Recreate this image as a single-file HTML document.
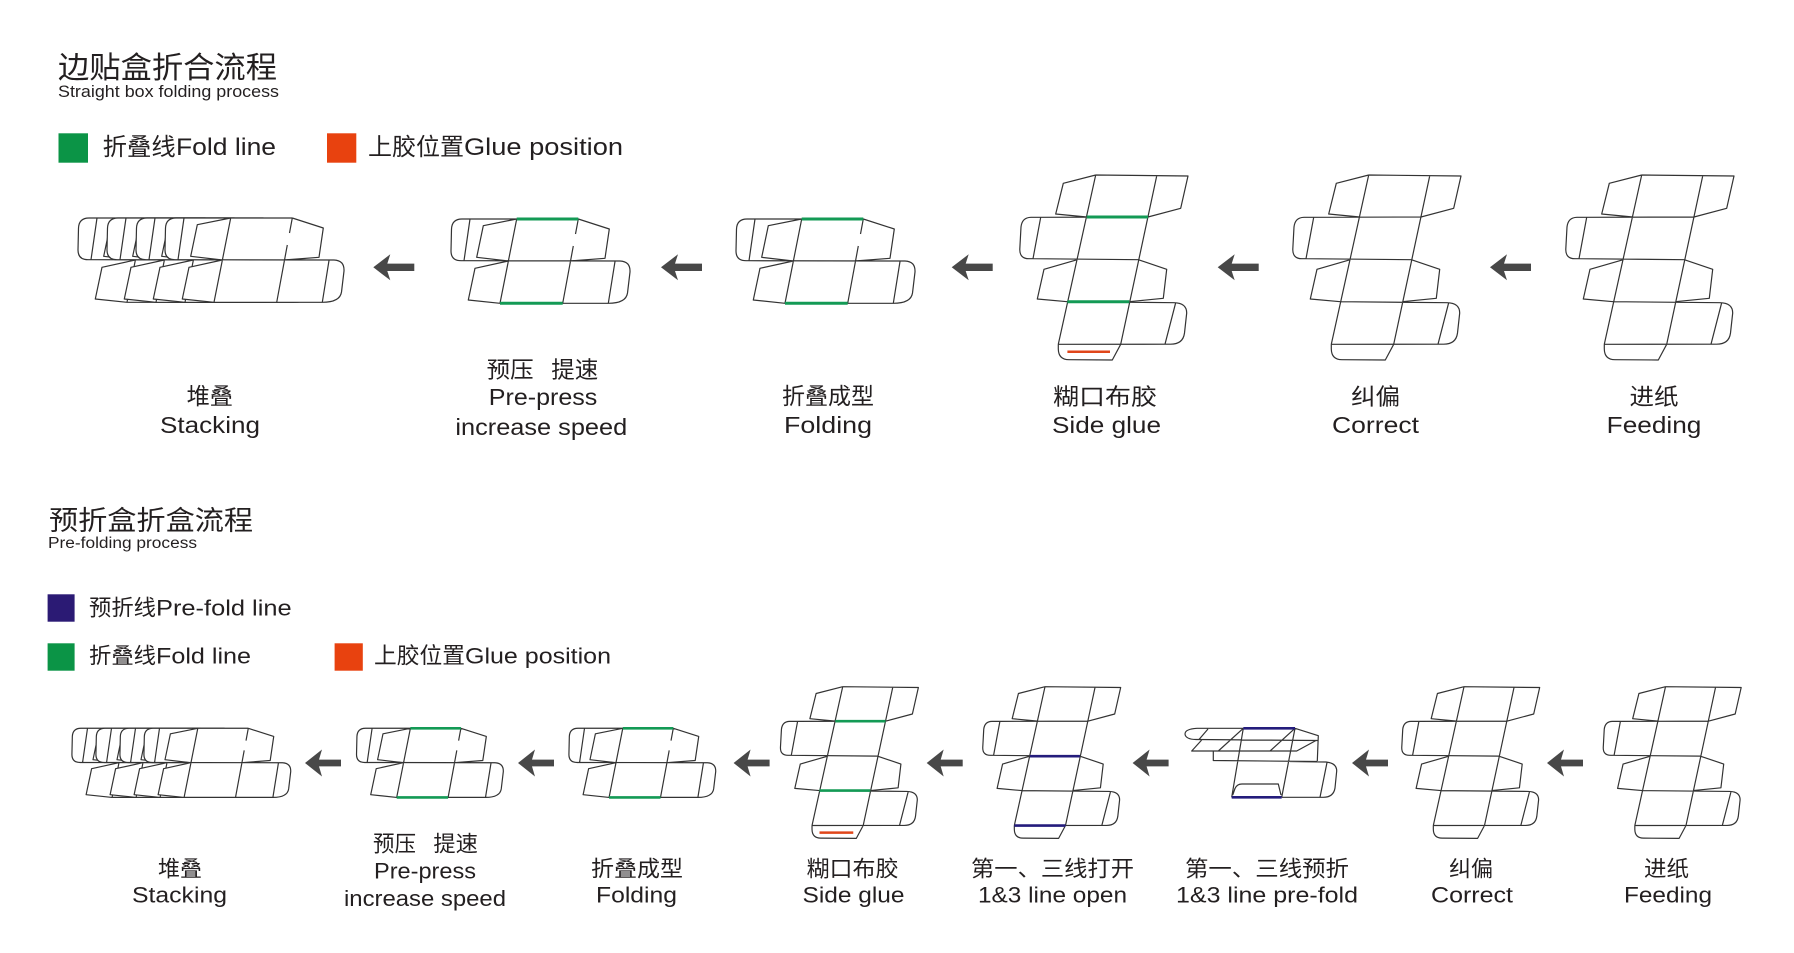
<!DOCTYPE html>
<html>
<head>
<meta charset="utf-8">
<style>
html,body{margin:0;padding:0;background:#fff;}
svg{display:block}
.t{fill:#231f20;font-family:"Liberation Sans","Noto Sans CJK SC",sans-serif;}
.c{fill:#231f20;font-family:"Noto Sans CJK SC","WenQuanYi Zen Hei",sans-serif;}
</style>
</head>
<body>
<svg width="1794" height="953" viewBox="0 0 1794 953" xmlns="http://www.w3.org/2000/svg">
<defs>
  <g id="vbox" fill="none" stroke-linejoin="round">
    <path d="M81.7,10 L49.3,18.3 L41.7,49 L72.7,52
             M81.7,10 L174,11 L166.7,43.3 L134,52
             M81.7,10 L44.3,179.3
             M142.7,11 L106.7,179.3
             M26.7,52.3 L134,52
             M26.7,52.3 L17,52.3 Q8,52.5 7,62 L5.8,84 Q5.5,93.7 15,93.7 L19,93.7
             M26.7,52.3 L19,93.7
             M19,93.7 L124.3,94.7 L152.7,104.3 L149.3,133.3 L115.3,136.7
             M63.3,94.7 L30,104.3 L23.3,134 L53.3,136.7
             M53.3,136.7 L160,137.7 Q172.7,138 172.7,148 L170.5,168 Q169,179.2 156.7,179.2
             M161.7,137.7 L151,179.2
             M44.3,179.3 L156.7,179.2
             M44.3,179.3 L44.3,184 Q44.5,194.7 55,194.7 L98.3,195 L106.7,179.3"/>
  </g>
  <g id="hbox" stroke-linejoin="round">
    <path d="M30,14 L138.3,14 L169.3,24 L165,53.3 L130,56 L23.3,55.7 L21,55.7 Q11,55.7 11,46 L11.5,24 Q12,14 22,14 Z" fill="#fff" stroke="none"/>
    <path d="M68.3,56 L180,56 Q190.5,56.5 190,67 L187.5,88 Q186,98.3 168.3,98.3 L60,98.3 L28.3,95 L35,63.3 Z" fill="#fff" stroke="none"/>
    <path fill="none" d="M30,14 L22,14 Q12,14 11.5,24 L11,46 Q11,55.7 21,55.7 L23.3,55.7
             M30,14 L24,55.7
             M30,14 L138.3,14
             M76.7,14 L43.3,20.7 L36.7,52.3 L68.3,56
             M76.7,14 L60,98.3
             M138.3,14 L135.5,29 M133.3,41 L122.7,98.3
             M138.3,14 L169.3,24 L165,53.3 L130,56
             M23.3,55.7 L180,56
             M68.3,56 L35,63.3 L28.3,95 L60,98.3
             M180,56 Q190.5,56.5 190,67 L187.5,88 Q186,98.3 168.3,98.3
             M175,56.5 L168.3,98.3
             M60,98.3 L168.3,98.3"/>
  </g>
  <path id="arr1" d="M0,0 L17,-13 L14,-3.7 L41,-3.7 L41,3.7 L14,3.7 L17,13 Z" fill="#484848"/>
  <path id="arr2" d="M0,0 L17,-13.5 L14,-3.4 L36,-3.4 L36,3.4 L14,3.4 L17,13.5 Z" fill="#484848"/>
</defs>

<rect width="1794" height="953" fill="#fff"/>

<!-- ============ SECTION 1 ============ -->
<text class="c" x="58" y="78" font-size="30" textLength="219" lengthAdjust="spacingAndGlyphs">边贴盒折合流程</text>
<text class="t" x="58" y="97" font-size="17" textLength="221" lengthAdjust="spacingAndGlyphs">Straight box folding process</text>

<rect x="58.5" y="133.3" width="29.5" height="29.4" fill="#0b9446"/>
<text class="c" x="102.7" y="155" font-size="24" textLength="73" lengthAdjust="spacingAndGlyphs">折叠线</text>
<text class="t" x="176" y="155" font-size="24" textLength="100" lengthAdjust="spacingAndGlyphs">Fold line</text>
<rect x="327" y="133.3" width="29.3" height="29.4" fill="#e8420f"/>
<text class="c" x="368" y="155" font-size="24" textLength="96" lengthAdjust="spacingAndGlyphs">上胶位置</text>
<text class="t" x="464" y="155" font-size="24" textLength="159" lengthAdjust="spacingAndGlyphs">Glue position</text>

<!-- stacking row 1 -->
<g stroke="#333" stroke-width="1.2">
  <use href="#hbox" transform="translate(67,204)"/>
  <use href="#hbox" transform="translate(96,204)"/>
  <use href="#hbox" transform="translate(125,204)"/>
  <use href="#hbox" transform="translate(154,204)"/>
</g>
<!-- pre-press row 1 -->
<g transform="translate(440,205)" stroke="#333" stroke-width="1.2">
  <use href="#hbox"/>
  <path d="M76.7,14 L138.3,14 M60,98.3 L122.7,98.3" stroke="#139a55" stroke-width="3" fill="none"/>
</g>
<!-- folding row 1 -->
<g transform="translate(725,205)" stroke="#333" stroke-width="1.2">
  <use href="#hbox"/>
  <path d="M76.7,14 L138.3,14 M60,98.3 L122.7,98.3" stroke="#139a55" stroke-width="3" fill="none"/>
</g>
<!-- side glue row 1 -->
<g transform="translate(1014,165)" stroke="#333" stroke-width="1.2">
  <use href="#vbox"/>
  <path d="M72.7,52 L134,52 M53.3,136.7 L115.3,136.7" stroke="#139a55" stroke-width="3" fill="none"/>
  <path d="M53.4,186.7 L96,186.7" stroke="#e0461a" stroke-width="2.5" fill="none"/>
</g>
<g transform="translate(1287,165)" stroke="#333" stroke-width="1.2"><use href="#vbox"/></g>
<g transform="translate(1560,165)" stroke="#333" stroke-width="1.2"><use href="#vbox"/></g>

<!-- arrows row 1 -->
<use href="#arr1" transform="translate(373.3,267.3)"/>
<use href="#arr1" transform="translate(661,267.3)"/>
<use href="#arr1" transform="translate(951.7,267.3)"/>
<use href="#arr1" transform="translate(1217.7,267.3)"/>
<use href="#arr1" transform="translate(1490,267.3)"/>

<!-- labels row 1 -->
<text class="c" x="186.6" y="404" font-size="23" textLength="46.4" lengthAdjust="spacingAndGlyphs">堆叠</text>
<text class="t" x="160" y="433" font-size="23" textLength="100" lengthAdjust="spacingAndGlyphs">Stacking</text>

<text class="c" x="486.6" y="377.5" font-size="23" textLength="47" lengthAdjust="spacingAndGlyphs">预压</text>
<text class="c" x="551.3" y="377.5" font-size="23" textLength="47" lengthAdjust="spacingAndGlyphs">提速</text>
<text class="t" x="488.8" y="404.8" font-size="23" textLength="108.5" lengthAdjust="spacingAndGlyphs">Pre-press</text>
<text class="t" x="455.4" y="435" font-size="23" textLength="171.8" lengthAdjust="spacingAndGlyphs">increase speed</text>

<text class="c" x="782" y="404" font-size="23" textLength="92" lengthAdjust="spacingAndGlyphs">折叠成型</text>
<text class="t" x="784" y="433" font-size="23" textLength="88" lengthAdjust="spacingAndGlyphs">Folding</text>

<text class="c" x="1053" y="404.5" font-size="23" textLength="104" lengthAdjust="spacingAndGlyphs">糊口布胶</text>
<text class="t" x="1052" y="433" font-size="23" textLength="109" lengthAdjust="spacingAndGlyphs">Side glue</text>

<text class="c" x="1351" y="404.5" font-size="23" textLength="49" lengthAdjust="spacingAndGlyphs">纠偏</text>
<text class="t" x="1332" y="433" font-size="23" textLength="87" lengthAdjust="spacingAndGlyphs">Correct</text>

<text class="c" x="1629.5" y="404.5" font-size="23" textLength="49" lengthAdjust="spacingAndGlyphs">进纸</text>
<text class="t" x="1606.7" y="433" font-size="23" textLength="94.7" lengthAdjust="spacingAndGlyphs">Feeding</text>

<!-- ============ SECTION 2 ============ -->
<text class="c" x="49" y="530" font-size="27" textLength="204" lengthAdjust="spacingAndGlyphs">预折盒折盒流程</text>
<text class="t" x="48" y="548" font-size="15.5" textLength="149" lengthAdjust="spacingAndGlyphs">Pre-folding process</text>

<rect x="47.6" y="594.3" width="27" height="27.4" fill="#2b1a74"/>
<text class="c" x="89" y="615.5" font-size="22" textLength="67" lengthAdjust="spacingAndGlyphs">预折线</text>
<text class="t" x="156" y="615.5" font-size="22" textLength="135.6" lengthAdjust="spacingAndGlyphs">Pre-fold line</text>

<rect x="47.6" y="643.3" width="27" height="27.4" fill="#0b9446"/>
<text class="c" x="89" y="663.5" font-size="22" textLength="67" lengthAdjust="spacingAndGlyphs">折叠线</text>
<text class="t" x="156" y="663.5" font-size="22" textLength="95" lengthAdjust="spacingAndGlyphs">Fold line</text>
<rect x="334.6" y="643.3" width="28.2" height="27.4" fill="#e8420f"/>
<text class="c" x="374" y="663.5" font-size="22.5" textLength="91" lengthAdjust="spacingAndGlyphs">上胶位置</text>
<text class="t" x="465" y="663.5" font-size="22" textLength="146" lengthAdjust="spacingAndGlyphs">Glue position</text>

<!-- stacking row 2 -->
<g stroke="#333" stroke-width="1.45">
  <use href="#hbox" transform="translate(62.9,716.8) scale(0.82)"/>
  <use href="#hbox" transform="translate(86.9,716.8) scale(0.82)"/>
  <use href="#hbox" transform="translate(110.9,716.8) scale(0.82)"/>
  <use href="#hbox" transform="translate(134.9,716.8) scale(0.82)"/>
</g>
<!-- pre-press row 2 -->
<g transform="translate(347.5,716.8) scale(0.82)" stroke="#333" stroke-width="1.45">
  <use href="#hbox"/>
  <path d="M76.7,14 L138.3,14 M60,98.3 L122.7,98.3" stroke="#139a55" stroke-width="3.2" fill="none"/>
</g>
<!-- folding row 2 -->
<g transform="translate(559.9,716.8) scale(0.82)" stroke="#333" stroke-width="1.45">
  <use href="#hbox"/>
  <path d="M76.7,14 L138.3,14 M60,98.3 L122.7,98.3" stroke="#139a55" stroke-width="3.2" fill="none"/>
</g>
<!-- side glue row 2 -->
<g transform="translate(775.7,678.5) scale(0.82)" stroke="#333" stroke-width="1.45">
  <use href="#vbox"/>
  <path d="M72.7,52 L134,52 M53.3,136.7 L115.3,136.7" stroke="#139a55" stroke-width="3.2" fill="none"/>
  <path d="M53.4,188 L94.6,188" stroke="#e0461a" stroke-width="3" fill="none"/>
</g>
<!-- 1&3 line open row 2 -->
<g transform="translate(978,678.5) scale(0.82)" stroke="#333" stroke-width="1.45">
  <use href="#vbox"/>
  <path d="M63.3,94.7 L124.3,94.7 M44.3,179.3 L106.7,179.3" stroke="#241c7c" stroke-width="3.2" fill="none"/>
</g>
<!-- pre-fold row 2 -->
<g stroke="#333" stroke-width="1.2" fill="none" stroke-linejoin="round">
  <path d="M1243.3,728.3 L1197,728.3 Q1185,729 1185,734 Q1185.5,739.3 1196,739.5 L1318,740.5
           M1199,739.5 L1208,729
           M1201.7,740 L1191.7,751 L1296.7,751 L1316,740.5
           M1243.3,728.3 L1218.3,751 M1295,728.3 L1270,751
           M1295,728.3 L1318.3,735.7 L1317.3,761
           M1213.3,751 L1213.3,760.5 L1317.3,761.5
           M1290,761.5 L1326,762 Q1336.7,763 1336.7,771 L1335,788 Q1333.5,797.3 1323.3,797.3
           M1327,762.5 L1320,797.3
           M1243.3,728.3 L1231.7,797.3 M1295,728.3 L1281.7,797.3
           M1232.7,795 L1235,788.5 Q1237,784 1242,784 L1278.3,784 L1281,795
           M1281.7,797.3 L1323.3,797.3"/>
  <path d="M1243.3,728.3 L1295,728.3 M1231.7,797.3 L1281.7,797.3" stroke="#241c7c" stroke-width="2.6"/>
</g>
<!-- correct / feeding row 2 -->
<g transform="translate(1397,678.5) scale(0.82)" stroke="#333" stroke-width="1.45"><use href="#vbox"/></g>
<g transform="translate(1598.5,678.5) scale(0.82)" stroke="#333" stroke-width="1.45"><use href="#vbox"/></g>

<!-- arrows row 2 -->
<use href="#arr2" transform="translate(305,763)"/>
<use href="#arr2" transform="translate(518,763)"/>
<use href="#arr2" transform="translate(733.6,763)"/>
<use href="#arr2" transform="translate(926.7,763)"/>
<use href="#arr2" transform="translate(1132.6,763)"/>
<use href="#arr2" transform="translate(1352,763)"/>
<use href="#arr2" transform="translate(1547,763)"/>

<!-- labels row 2 -->
<text class="c" x="158" y="876.5" font-size="22" textLength="44" lengthAdjust="spacingAndGlyphs">堆叠</text>
<text class="t" x="132" y="902.5" font-size="22" textLength="95" lengthAdjust="spacingAndGlyphs">Stacking</text>

<text class="c" x="373" y="851.5" font-size="22" textLength="43" lengthAdjust="spacingAndGlyphs">预压</text>
<text class="c" x="433.4" y="851.5" font-size="22" textLength="44.6" lengthAdjust="spacingAndGlyphs">提速</text>
<text class="t" x="374" y="878.5" font-size="22" textLength="102" lengthAdjust="spacingAndGlyphs">Pre-press</text>
<text class="t" x="344" y="906" font-size="22" textLength="162" lengthAdjust="spacingAndGlyphs">increase speed</text>

<text class="c" x="591" y="876.5" font-size="22" textLength="92" lengthAdjust="spacingAndGlyphs">折叠成型</text>
<text class="t" x="596" y="902.5" font-size="22" textLength="81" lengthAdjust="spacingAndGlyphs">Folding</text>

<text class="c" x="806.5" y="876.5" font-size="22" textLength="92" lengthAdjust="spacingAndGlyphs">糊口布胶</text>
<text class="t" x="802.5" y="902.5" font-size="22" textLength="102" lengthAdjust="spacingAndGlyphs">Side glue</text>

<text class="c" x="971" y="876.5" font-size="22" textLength="163" lengthAdjust="spacingAndGlyphs">第一、三线打开</text>
<text class="t" x="978" y="902.5" font-size="22" textLength="149" lengthAdjust="spacingAndGlyphs">1&amp;3 line open</text>

<text class="c" x="1185" y="876.5" font-size="22" textLength="164" lengthAdjust="spacingAndGlyphs">第一、三线预折</text>
<text class="t" x="1176" y="902.5" font-size="22" textLength="182" lengthAdjust="spacingAndGlyphs">1&amp;3 line pre-fold</text>

<text class="c" x="1449" y="876.5" font-size="22" textLength="44" lengthAdjust="spacingAndGlyphs">纠偏</text>
<text class="t" x="1431" y="902.5" font-size="22" textLength="82" lengthAdjust="spacingAndGlyphs">Correct</text>

<text class="c" x="1644" y="876.5" font-size="22" textLength="45" lengthAdjust="spacingAndGlyphs">进纸</text>
<text class="t" x="1624" y="902.5" font-size="22" textLength="88" lengthAdjust="spacingAndGlyphs">Feeding</text>
</svg>
</body>
</html>
